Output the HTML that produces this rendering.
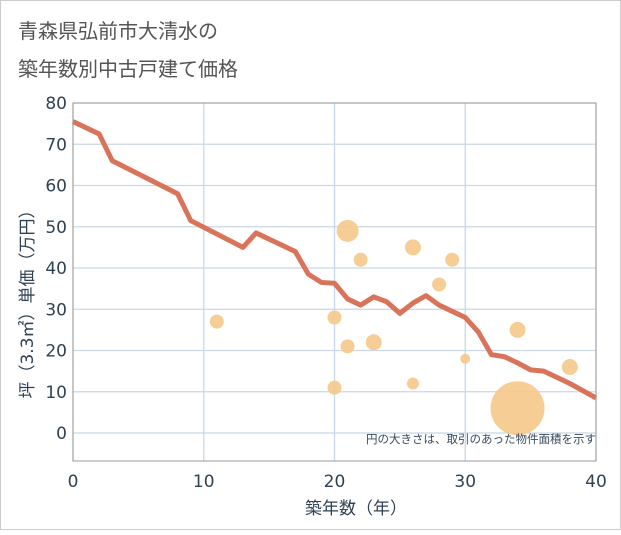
<!DOCTYPE html>
<html><head><meta charset="utf-8"><style>
body{margin:0;background:#fff;}
svg text{font-family:"DejaVu Sans","Noto Sans CJK JP",sans-serif;}
</style></head><body>
<svg id="chart" width="621" height="530" xmlns="http://www.w3.org/2000/svg">
<rect x="0.5" y="0.5" width="620" height="529" fill="#fff" stroke="#ccc"/>
<text x="18" y="38" font-size="20" fill="#555">青森県弘前市大清水の</text>
<text x="18" y="76" font-size="20" fill="#555">築年数別中古戸建て価格</text>
<g id="grid"></g><g id="bubbles"></g><g id="line"></g><g id="axes"></g>
<text x="596" y="443" font-size="11.5" fill="#3a4a5c" text-anchor="end">円の大きさは、取引のあった物件面積を示す</text>
<text x="356" y="514" font-size="17" fill="#2f4254" text-anchor="middle">築年数（年）</text>
<text transform="translate(33,300) rotate(-90)" font-size="17" fill="#2f4254" text-anchor="middle">坪（3.3㎡）単価（万円）</text>
</svg>
<script>
const xTicks=[0,10,20,30,40];
const yTicks=[0,10,20,30,40,50,60,70,80];
const lineYears=[0,2,3,8,9,13,14,17,18,19,20,21,22,23,24,25,26,27,28,29,30,31,32,33,34,35,36,38,40];
const linePrices=[75.5,72.5,66,58,51.5,45,48.5,44,38.5,36.5,36.3,32.5,31,33,31.8,29,31.5,33.3,31,29.5,28,24.5,19,18.5,17,15.3,15,12,8.5];
const bubbleYears=[11,20,20,21,21,22,23,26,26,28,29,30,34,34,38];
const bubblePrices=[27,28,11,21,49,42,22,45,12,36,42,18,25,6,16];
const bubbleSizes=[7,7,7,7,11,7,8,8,6,7,7,5,8,27,8];
const X0=73,X1=596,Y0=433,Ytop=103,Ybot=461;
const sx=v=>X0+(v-0)*(X1-X0)/40;
const sy=v=>Y0-(v)*(Y0-Ytop)/80;
const NS="http://www.w3.org/2000/svg";
function mk(t,a,p){const e=document.createElementNS(NS,t);for(const k in a)e.setAttribute(k,a[k]);p.appendChild(e);return e;}
const g=document.getElementById('grid'),ax=document.getElementById('axes');
yTicks.forEach(v=>{
 const l=mk('line',{x1:X0,x2:X1,y1:sy(v),y2:sy(v),stroke:'#c8d8e8','stroke-width':1.3},g);
 
 
 const t=mk('text',{x:67,y:sy(v)+6,'font-size':17,fill:'#2f4254','text-anchor':'end'},ax);t.textContent=v;
 
 
});
xTicks.forEach(v=>{
 const l=mk('line',{x1:sx(v),x2:sx(v),y1:Ytop,y2:Ybot,stroke:'#c8d8e8','stroke-width':1.3},g);
 
 
 const t=mk('text',{x:sx(v),y:487,'font-size':17,fill:'#2f4254','text-anchor':'middle'},ax);t.textContent=v;
 
 
});
const fr=mk('rect',{x:X0,y:Ytop,width:X1-X0,height:Ybot-Ytop,fill:'none',stroke:'#999','stroke-width':1},ax);


const bg=document.getElementById('bubbles');
bubbleYears.forEach((yr,i)=>{
 const c=mk('circle',{cx:sx(yr),cy:sy(bubblePrices[i]),r:bubbleSizes[i],fill:'#f5c98a','fill-opacity':0.9},bg);
 
 
});
const pts=lineYears.map((yr,i)=>sx(yr)+','+sy(linePrices[i])).join(' ');
const pl=mk('polyline',{points:pts,fill:'none',stroke:'#d9735a','stroke-width':5,'stroke-linejoin':'round'},document.getElementById('line'));


</script>
</body></html>
